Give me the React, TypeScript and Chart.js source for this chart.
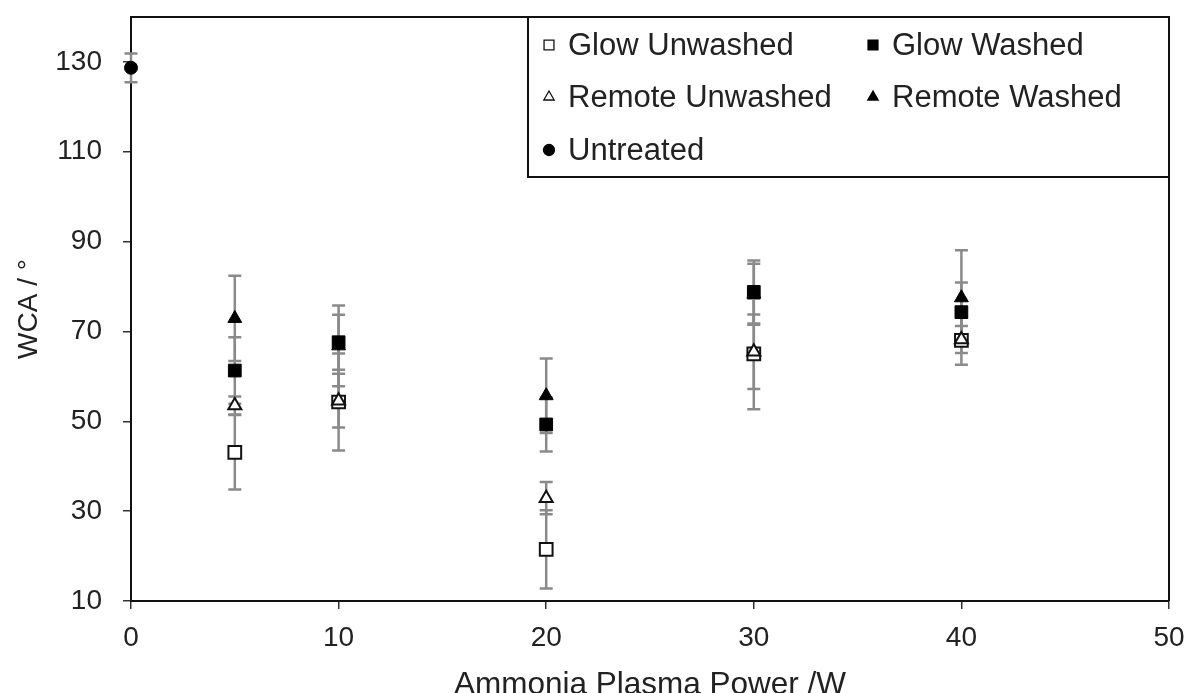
import React, { useEffect, useRef } from "react";
import { Chart, registerables } from "chart.js";
import { drawPoint } from "chart.js/helpers";

Chart.register(...registerables);

// Plasma power settings (W) for the treated samples
const powers = [5, 10, 20, 30, 40];

// Water contact angle means (°) and their standard deviations
const glowUnwashed = [43.1, 54.3, 21.5, 65.0, 68.0];
const glowUnwashedErr = [8.3, 10.8, 8.7, 12.3, 5.4];
const glowWashed = [61.3, 67.6, 49.3, 78.8, 74.3];
const glowWashedErr = [7.4, 6.1, 6.0, 7.0, 6.6];
const remoteUnwashed = [53.5, 54.6, 32.9, 65.5, 68.2];
const remoteUnwashedErr = [2.0, 6.0, 3.6, 8.3, 3.0];
const remoteWashed = [72.9, 66.8, 55.7, 78.3, 77.5];
const remoteWashedErr = [9.5, 9.0, 8.3, 6.8, 10.6];
const untreatedPower = [0];
const untreated = [128.7];
const untreatedErr = [3.2];

// Axis ticks
const xTicks = [0, 10, 20, 30, 40, 50];
const yTicks = [10, 30, 50, 70, 90, 110, 130];

const FONT = "'Liberation Sans', Arial, sans-serif";
const TEXT = "#222";

const toPoints = (xs: number[], ys: number[]) => xs.map((x, i) => ({ x, y: ys[i] }));

// Vertical error bars with caps, drawn under the markers
const errorBarPlugin = {
  id: "errorBars",
  beforeDatasetsDraw(chart: any) {
    const { ctx } = chart;
    const xs = chart.scales.x;
    const ys = chart.scales.y;
    const cap = 6.5;
    ctx.save();
    ctx.strokeStyle = "#8a8a8a";
    ctx.lineWidth = 2.5;
    chart.data.datasets.forEach((ds: any) => {
      ds.data.forEach((p: any, i: number) => {
        const e = ds.yErr[i];
        const px = xs.getPixelForValue(p.x);
        const top = ys.getPixelForValue(p.y + e);
        const bot = ys.getPixelForValue(p.y - e);
        ctx.beginPath();
        ctx.moveTo(px, top);
        ctx.lineTo(px, bot);
        ctx.moveTo(px - cap, top);
        ctx.lineTo(px + cap, top);
        ctx.moveTo(px - cap, bot);
        ctx.lineTo(px + cap, bot);
        ctx.stroke();
      });
    });
    ctx.restore();
  },
};

// Top and right sides of the plot frame
const framePlugin = {
  id: "frame",
  afterDatasetsDraw(chart: any) {
    const { ctx, chartArea: a } = chart;
    ctx.save();
    ctx.strokeStyle = "#111";
    ctx.lineWidth = 2;
    ctx.beginPath();
    ctx.moveTo(a.left, a.top);
    ctx.lineTo(a.right, a.top);
    ctx.lineTo(a.right, a.bottom);
    ctx.stroke();
    ctx.restore();
  },
};

// Boxed two-column legend in the upper right of the plot
const boxLegendPlugin = {
  id: "boxLegend",
  afterDraw(chart: any) {
    const { ctx, chartArea: a } = chart;
    const w = 641;
    const h = 160;
    const x0 = a.right - w;
    const y0 = a.top;
    const colX = [21, 345];
    const rowY = [28, 80, 133];
    ctx.save();
    ctx.fillStyle = "#fff";
    ctx.fillRect(x0, y0, w, h);
    ctx.strokeStyle = "#111";
    ctx.lineWidth = 2;
    ctx.strokeRect(x0, y0, w, h);
    chart.data.datasets.forEach((ds: any, i: number) => {
      const mx = x0 + colX[i % 2];
      const my = y0 + rowY[Math.floor(i / 2)];
      ctx.fillStyle = ds.backgroundColor;
      ctx.strokeStyle = ds.borderColor;
      ctx.lineWidth = 1.3;
      drawPoint(ctx, { pointStyle: ds.pointStyle, radius: ds.legendRadius, borderWidth: 1.3, rotation: 0 }, mx, my);
      ctx.fillStyle = TEXT;
      ctx.font = `31px ${FONT}`;
      ctx.textAlign = "left";
      ctx.textBaseline = "middle";
      ctx.fillText(ds.label, mx + 19, my + 1);
    });
    ctx.restore();
  },
};

export default function App() {
  const canvasRef = useRef<HTMLCanvasElement | null>(null);

  useEffect(() => {
    if (!canvasRef.current) return;
    const chart = new Chart(canvasRef.current, {
      type: "scatter",
      data: {
        // later series are painted over earlier ones
        datasets: [
          {
            label: "Glow Unwashed",
            data: toPoints(powers, glowUnwashed),
            yErr: glowUnwashedErr,
            order: 5,
            pointStyle: "rect",
            pointRadius: 9,
            legendRadius: 7,
            backgroundColor: "#fff",
            borderColor: "#111",
            borderWidth: 2,
          },
          {
            label: "Glow Washed",
            data: toPoints(powers, glowWashed),
            yErr: glowWashedErr,
            order: 4,
            pointStyle: "rect",
            pointRadius: 9,
            legendRadius: 7,
            backgroundColor: "#000",
            borderColor: "#000",
            borderWidth: 1,
          },
          {
            label: "Remote Unwashed",
            data: toPoints(powers, remoteUnwashed),
            yErr: remoteUnwashedErr,
            order: 3,
            pointStyle: "triangle",
            pointRadius: 7.5,
            legendRadius: 6,
            backgroundColor: "#fff",
            borderColor: "#111",
            borderWidth: 2,
          },
          {
            label: "Remote Washed",
            data: toPoints(powers, remoteWashed),
            yErr: remoteWashedErr,
            order: 2,
            pointStyle: "triangle",
            pointRadius: 8,
            legendRadius: 6,
            backgroundColor: "#000",
            borderColor: "#000",
            borderWidth: 1,
          },
          {
            label: "Untreated",
            data: toPoints(untreatedPower, untreated),
            yErr: untreatedErr,
            order: 1,
            pointStyle: "circle",
            pointRadius: 6.5,
            legendRadius: 5.5,
            backgroundColor: "#000",
            borderColor: "#000",
            borderWidth: 1,
          },
        ] as any,
      },
      options: {
        responsive: false,
        animation: false,
        events: [],
        clip: false as any,
        layout: { padding: { left: 0, top: 17, right: 20, bottom: 0 } },
        plugins: {
          legend: { display: false },
          tooltip: { enabled: false },
        },
        scales: {
          x: {
            type: "linear",
            min: 0,
            max: 50,
            afterBuildTicks: (s: any) => {
              s.ticks = xTicks.map((v) => ({ value: v }));
            },
            afterFit: (s: any) => {
              s.height = 92;
              s.paddingLeft = 0;
              s.paddingRight = 0;
              s.paddingTop = 0;
              s.paddingBottom = 0;
            },
            grid: { drawOnChartArea: false, tickLength: 8, color: "#333", lineWidth: 1.5 },
            border: { color: "#111", width: 2 },
            ticks: { color: TEXT, font: { family: FONT, size: 28 }, padding: 12, maxRotation: 0 },
            title: {
              display: true,
              text: "Ammonia Plasma Power /W",
              color: TEXT,
              font: { family: FONT, size: 31.5, lineHeight: "20px" },
              padding: { top: 0, bottom: -2 },
            },
          },
          y: {
            type: "linear",
            min: 10,
            max: 140,
            afterBuildTicks: (s: any) => {
              s.ticks = yTicks.map((v) => ({ value: v }));
            },
            afterFit: (s: any) => {
              s.width = 131;
              s.paddingLeft = 0;
              s.paddingRight = 0;
              s.paddingTop = 0;
              s.paddingBottom = 0;
            },
            grid: { drawOnChartArea: false, tickLength: 8, color: "#333", lineWidth: 1.5 },
            border: { color: "#111", width: 2 },
            ticks: { color: TEXT, font: { family: FONT, size: 28 }, padding: 21 },
            title: {
              display: true,
              text: "WCA / °",
              color: TEXT,
              font: { family: FONT, size: 28 },
              padding: { top: 12, bottom: 0 },
            },
          },
        },
      } as any,
      plugins: [errorBarPlugin, framePlugin, boxLegendPlugin],
    });
    return () => chart.destroy();
  }, []);

  return (
    <div style={{ position: "fixed", left: 0, top: 0, width: 1189, height: 693, background: "#fff" }}>
      <canvas ref={canvasRef} width={1189} height={693} style={{ display: "block" }} />
    </div>
  );
}
